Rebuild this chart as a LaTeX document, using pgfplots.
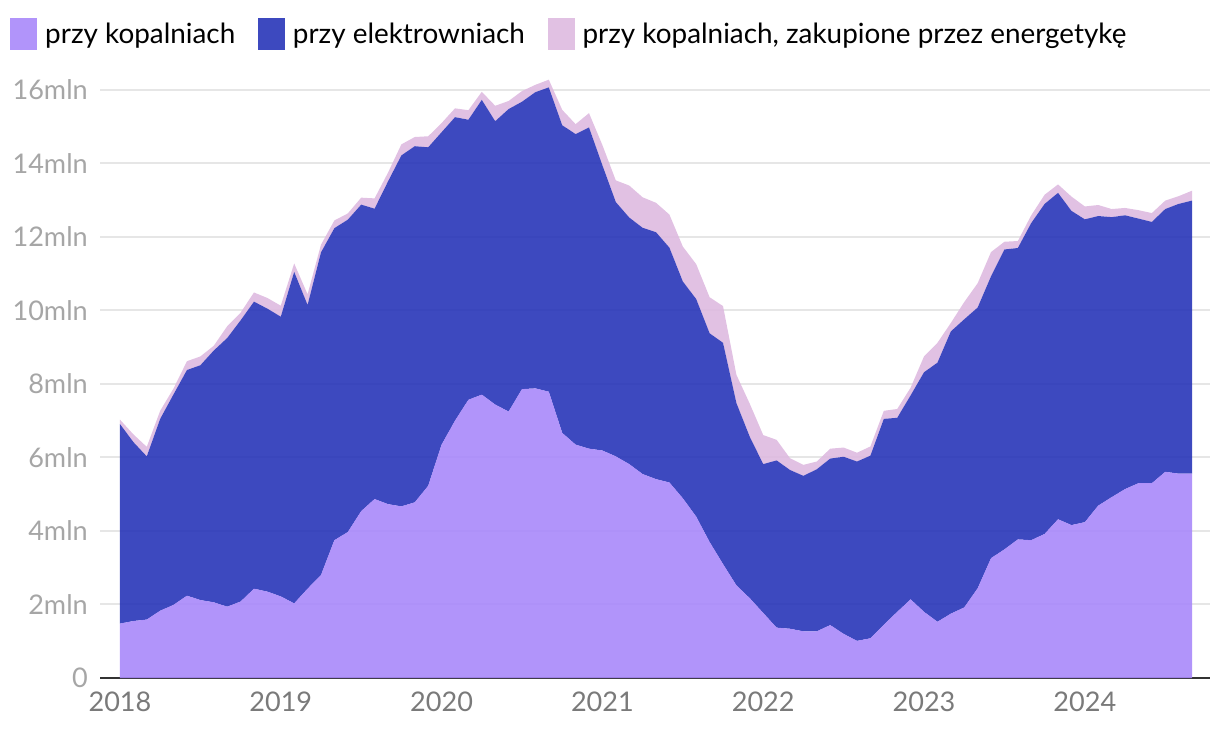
\documentclass[border=0pt]{standalone}
\usepackage{pgfplots}
\pgfplotsset{compat=1.18}
\usepackage{pgfplotstable}
\usepackage{fontspec}
\setmainfont{Lato}
\definecolor{kop}{HTML}{A988FA}
\definecolor{ele}{HTML}{2835B8}
\definecolor{zak}{HTML}{DEBAE0}
\definecolor{gridc}{HTML}{E6E6E6}
\definecolor{ylab}{HTML}{A6A6A6}
\definecolor{xlab}{HTML}{7A7A7A}
\definecolor{axc}{HTML}{333333}

\pgfplotstableread{
m kop ele zak
0 1.48 5.43 0.12
1 1.55 4.87 0.21
2 1.59 4.44 0.26
3 1.83 5.22 0.22
4 1.99 5.73 0.16
5 2.24 6.14 0.24
6 2.12 6.39 0.24
7 2.06 6.85 0.13
8 1.94 7.31 0.32
9 2.08 7.65 0.21
10 2.43 7.81 0.25
11 2.35 7.70 0.29
12 2.22 7.61 0.30
13 2.03 9.02 0.23
14 2.43 7.72 0.29
15 2.80 8.78 0.21
16 3.75 8.49 0.21
17 3.97 8.50 0.17
18 4.54 8.34 0.19
19 4.87 7.90 0.28
20 4.73 8.78 0.24
21 4.67 9.55 0.30
22 4.78 9.69 0.25
23 5.23 9.21 0.30
24 6.35 8.50 0.25
25 7.00 8.26 0.24
26 7.57 7.62 0.26
27 7.71 8.02 0.22
28 7.44 7.71 0.42
29 7.25 8.23 0.22
30 7.86 7.82 0.29
31 7.88 8.06 0.20
32 7.79 8.28 0.21
33 6.67 8.37 0.42
34 6.35 8.45 0.27
35 6.24 8.74 0.39
36 6.19 7.76 0.55
37 6.03 6.92 0.59
38 5.82 6.71 0.87
39 5.55 6.70 0.83
40 5.41 6.72 0.80
41 5.32 6.39 0.90
42 4.89 5.90 0.95
43 4.39 5.92 0.95
44 3.70 5.68 0.98
45 3.10 6.02 1.00
46 2.52 4.96 0.77
47 2.17 4.39 0.90
48 1.77 4.05 0.79
49 1.37 4.55 0.56
50 1.34 4.32 0.32
51 1.27 4.23 0.30
52 1.27 4.41 0.21
53 1.44 4.53 0.27
54 1.20 4.82 0.25
55 1.01 4.88 0.24
56 1.08 4.97 0.25
57 1.45 5.60 0.22
58 1.80 5.28 0.24
59 2.14 5.55 0.21
60 1.80 6.52 0.43
61 1.53 7.05 0.54
62 1.75 7.68 0.23
63 1.92 7.84 0.47
64 2.44 7.64 0.66
65 3.26 7.67 0.66
66 3.50 8.16 0.21
67 3.77 7.93 0.19
68 3.75 8.63 0.21
69 3.92 8.98 0.25
70 4.32 8.88 0.23
71 4.16 8.55 0.39
72 4.24 8.24 0.35
73 4.69 7.88 0.30
74 4.92 7.62 0.22
75 5.14 7.45 0.20
76 5.30 7.20 0.23
77 5.30 7.11 0.24
78 5.61 7.15 0.23
79 5.56 7.34 0.21
80 5.56 7.43 0.27
}\data

\begin{document}
\begin{tikzpicture}
\useasboundingbox (0,0) rectangle (915pt,552pt);
\begin{axis}[
  at={(75pt,43.5pt)}, anchor=south west,
  scale only axis, width=832.5pt, height=454.8pt,
  xmin=-1.49, xmax=81.34, ymin=0, ymax=16.5,
  enlargelimits=false,
  stack plots=y,
  axis lines*=left,
  y axis line style={draw=none},
  x axis line style={draw=axc, line width=1.5pt},
  major tick length=0pt,
  ymajorgrids, grid style={color=gridc, line width=1.5pt},
  ytick={0,2,...,16},
  yticklabels={0,2mln,4mln,6mln,8mln,10mln,12mln,14mln,16mln},
  xtick={0,12,24,36,48,60,72},
  xticklabels={2018,2019,2020,2021,2022,2023,2024},
  yticklabel style={font=\fontsize{20.3}{24}\selectfont, text=ylab, anchor=east, inner sep=0pt, xshift=-9pt},
  xticklabel style={font=\fontsize{20.3}{24}\selectfont, text=xlab, anchor=north, inner sep=0pt, yshift=-10pt},
  legend columns=3,
  legend style={at={(axis description cs:-0.0811,1.062)}, anchor=west, draw=none, fill=none, inner sep=0pt,
    font=\fontsize{20.9}{25}\selectfont,
    nodes={inner sep=0pt},
    /tikz/every odd column/.append style={column sep=6pt},
    /tikz/every even column/.append style={column sep=17pt}},
  legend image code/.code={\fill[#1] (0pt,-12pt) rectangle (20.25pt,12pt);},
]
\addplot[fill=kop, draw=none, fill opacity=0.9] table[x=m,y=kop]{\data} \closedcycle;
\addplot[fill=ele, draw=none, fill opacity=0.9] table[x=m,y=ele]{\data} \closedcycle;
\addplot[fill=zak, draw=none, fill opacity=0.9] table[x=m,y=zak]{\data} \closedcycle;
\legend{przy kopalniach, przy elektrowniach, {przy kopalniach, zakupione przez energetykę}}
\end{axis}
\end{tikzpicture}
\end{document}
